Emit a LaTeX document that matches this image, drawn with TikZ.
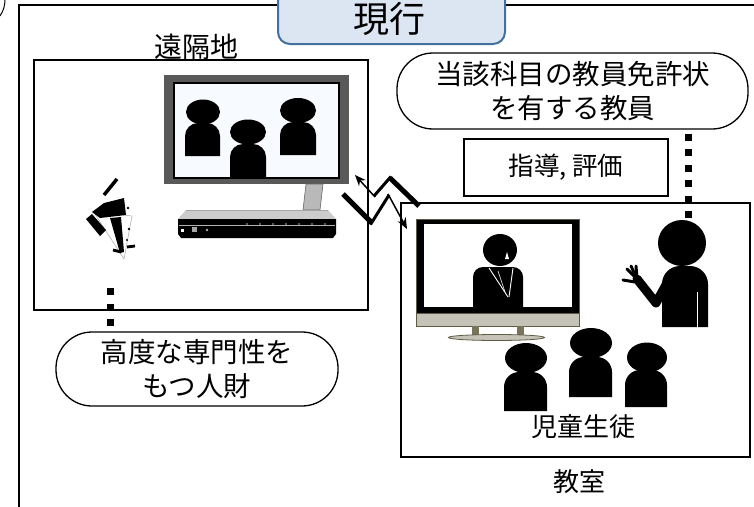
\documentclass[tikz,border=0pt]{standalone}
\usepackage{fontspec}
\newfontfamily\jp{Noto Sans CJK JP}
\usetikzlibrary{arrows.meta}
\definecolor{titlefill}{HTML}{DCE6F2}
\definecolor{titleline}{HTML}{41719C}
\definecolor{monframe}{HTML}{595959}
\definecolor{monscreen}{HTML}{F7FAFE}
\definecolor{tvolive}{HTML}{5E5C45}
\definecolor{tvgray}{HTML}{C5C3B8}
\definecolor{tvleg}{HTML}{77745C}
\tikzset{
  areabox/.style={draw, line width=1.4pt, rectangle, inner sep=0pt},
  pillbox/.style={draw, line width=1.3pt, rectangle, rounded corners=36pt, inner sep=0pt,
    align=center, font=\jp\fontsize{27.5}{33.5}\selectfont},
  plainbox/.style={draw, line width=1.3pt, rectangle, inner sep=0pt, font=\jp\fontsize{25.5}{30}\selectfont},
  caption/.style={inner sep=0pt, font=\jp\fontsize{26}{30}\selectfont},
  dotline/.style={line width=7pt, dash pattern=on 7pt off 8.5pt},
  bolt/.style={line join=miter, line cap=butt},
}
% body of a silhouette: x-left, x-right, y-top, y-bottom, corner radius
\newcommand\pbody[5]{\fill (#1,#4) [rounded corners=#5pt] -- (#1,#3) -- (#2,#3) [sharp corners] -- (#2,#4) -- cycle;}
\begin{document}
\begin{tikzpicture}[x=1pt,y=-1pt]
\useasboundingbox (0,0) rectangle (754,506);
\clip (0,0) rectangle (754,506);

% outer frame and the arc at the corner
\draw[line width=2pt] (19,520) -- (19,5) -- (770,5);
\draw[line width=1pt] (0,16) .. controls (4,10) and (5,5) .. (5,-2);

% title tab
\node[draw=titleline, fill=titlefill, line width=2pt, rounded corners=12pt,
  minimum width=227pt, minimum height=66pt, inner sep=0pt] (title) at (391.5,11) {};
\node[inner sep=0pt, font=\jp\fontsize{36}{36}\selectfont] (titletext) at (389,19) {現行};

% remote site
\node[areabox, minimum width=334pt, minimum height=250pt] (remote) at (201,185) {};
\node[caption, font=\jp\fontsize{28}{30}\selectfont] (remotelabel) at (196,47) {遠隔地};

% monitor with three people
\fill[monframe] (164,75) rectangle (349,184);
\draw[fill=monscreen, line width=1.2pt] (174,83) rectangle (339,178);
\begin{scope}
  \clip (174.6,83.6) rectangle (338.4,177.4);
  \fill (203,112) ellipse (17pt and 12.5pt);
  \pbody{185}{220}{123}{156}{13}
  \fill (248,132) ellipse (18pt and 12.5pt);
  \pbody{230}{266}{144}{182}{13}
  \fill (298,110.5) ellipse (18pt and 12.5pt);
  \pbody{280}{316}{122}{155}{13}
\end{scope}
% monitor stand
\draw[fill=gray!55, draw=gray!80!black, line width=0.6pt] (306,184) -- (323,184) -- (320,210) -- (303,210) -- cycle;
% base unit
\fill[gray!40] (186,210) -- (328,210) -- (336,219) -- (178,219) -- cycle;
\draw[gray!70, line width=0.6pt] (186,210) -- (328,210);
\fill[black] (178,219) -- (336,219) -- (336,234) -- (333,238) -- (181,238) -- (178,234) -- cycle;
\draw[gray!60, line width=0.6pt] (179,225) -- (335,225);
\foreach \px in {247,260,273,286,299,312,325} \fill[gray!60] (\px,224) circle (0.9pt);
\fill[white] (180.5,228.5) rectangle (183.5,231.5);
\fill[gray!70] (192,227) rectangle (197,232);
\fill[gray!60] (207,230) circle (1.3pt);

% broken figure at the remote site
\draw[line width=3.5pt] (104,195) -- (117,179);
\draw[fill=white, draw=gray!60, line width=0.6pt] (93,211) -- (132,216) -- (124,259) -- cycle;
\fill (92,212) -- (104,203) -- (124,198) -- (126,215) -- (100,218) -- cycle;
\fill (86,219) -- (92,214) -- (106,230) -- (100,236) -- cycle;
\fill (110,218) -- (121,217) -- (124,252) -- (120,253) -- cycle;
\draw[line width=2.8pt] (113,250) -- (121,252);
\draw[line width=2.8pt] (127,247) -- (135,246);
\fill (128,208) circle (1.3pt);
\fill (129,229) circle (1.3pt);
\fill (127,240) circle (1.1pt);

% expert
\node[pillbox, minimum width=282pt, minimum height=74pt] (expert) at (197,369) {高度な専門性を\\もつ人財};
\coordinate (expertlink) at (110,288);
\draw[dotline] (expertlink) -- (expert.north -| expertlink);

% two-way lightning link between the sites
\draw[bolt, line width=5pt] (419,206) -- (390,178);
\draw[bolt, line width=3pt] (391,176.5) -- (374,196);
\draw[bolt, line width=1.5pt, -{Stealth[length=11pt,width=9pt]}] (375,197) -- (355,175);
\draw[bolt, line width=5pt] (343,194) -- (372,223);
\draw[bolt, line width=3pt] (370.5,224.5) -- (389,195);
\draw[bolt, line width=1.5pt, -{Stealth[length=11pt,width=9pt]}] (388,194) -- (407,229);

% classroom
\node[areabox, minimum width=349pt, minimum height=254pt] (classroom) at (575.5,330) {};
\node[caption] (classlabel) at (579,482) {教室};
\node[caption] (pupils) at (583,427) {児童生徒};

% teacher with licence
\node[pillbox, minimum width=351pt, minimum height=76pt] (teacher) at (572.5,91) {当該科目の教員免許状\\を有する教員};
\node[plainbox, minimum width=204pt, minimum height=57pt] (guide) at (566,167.5) {指導, 評価};
\coordinate (teacherhead) at (688,219);
\draw[dotline] (teacher.south -| teacherhead) ++(0,4) -- (teacherhead);

% television
\draw[fill=black, draw=tvolive, line width=1pt] (416,219) rectangle (579,326);
\fill[white] (424,224) rectangle (572,307);
\draw[fill=tvgray, draw=tvolive, line width=0.8pt] (416,313) rectangle (579,326);
\fill[tvleg] (472,326) rectangle (479,336);
\fill[tvleg] (517,326) rectangle (524,336);
\draw[fill=tvgray, draw=tvolive, line width=0.8pt] (496.5,337.5) ellipse (48pt and 3pt);
% presenter on screen
\begin{scope}
  \clip (424,224) rectangle (572,307);
  \fill (500,250) ellipse (17pt and 16pt);
  \pbody{473}{523}{267}{310}{10}
  \fill[white] (507,252) -- (509,259) -- (505,259) -- cycle;
  \draw[white, line width=0.9pt] (489,268) -- (508,297);
  \draw[white, line width=0.9pt] (513,268) -- (509,297);
  \draw[white, line width=0.6pt] (498,271) -- (505,292);
\end{scope}

% teacher in the classroom
\fill (682,243) ellipse (24pt and 23pt);
\pbody{662}{708}{266}{327}{18}
\draw[white, line width=0.8pt] (697,292) -- (697,327);
\draw[line width=9pt, line join=round, line cap=round] (667,283) -- (656,303) -- (637,279);
\draw[line width=3pt, line cap=round] (637,279) -- (627,269);
\draw[line width=3pt, line cap=round] (637,279) -- (631,266);
\draw[line width=3pt, line cap=round] (637,279) -- (636,266);
\draw[line width=3pt, line cap=round] (635,282) -- (623,280);

% pupils
\fill (526,358) ellipse (21pt and 15pt);
\pbody{504}{547}{372}{411}{15}
\fill (591,343) ellipse (21pt and 15pt);
\pbody{569}{612}{357}{397}{15}
\fill (647,357.5) ellipse (20pt and 15pt);
\pbody{625}{667}{370}{407}{15}

\end{tikzpicture}
\end{document}
